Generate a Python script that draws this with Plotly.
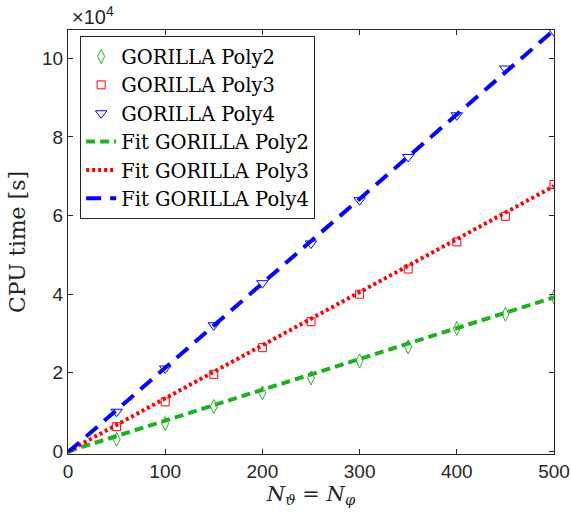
import plotly.graph_objects as go

# Data (CPU time in seconds)
n_vals = [50, 100, 150, 200, 250, 300, 350, 400, 450, 500]
poly2 = [3100, 7100, 11400, 14900, 18700, 23000, 26600, 31300, 34900, 39300]
poly3 = [6300, 12600, 19600, 26400, 33000, 40000, 46400, 53300, 59800, 67900]
poly4 = [10100, 21100, 32100, 42800, 52900, 63900, 74900, 85500, 97400, 106900]

fit_n = [0, 500]
fit2 = [0, 39200]
fit3 = [0, 67500]
fit4 = [-200, 107200]

xticks = [0, 100, 200, 300, 400, 500]
yticks = [0, 20000, 40000, 60000, 80000, 100000]
yticktext = ["0", "2", "4", "6", "8", "10"]

GREEN = "#20B020"
RED = "#FF0000"
BLUE = "#0000FF"

fig = go.Figure()
fig.add_trace(go.Scatter(x=n_vals, y=poly2, mode="markers", name="GORILLA Poly2",
                         marker=dict(symbol="diamond-tall-open", size=10, color=GREEN, line=dict(width=1))))
fig.add_trace(go.Scatter(x=n_vals, y=poly3, mode="markers", name="GORILLA Poly3",
                         marker=dict(symbol="square-open", size=8, color=RED, line=dict(width=1))))
fig.add_trace(go.Scatter(x=n_vals, y=poly4, mode="markers", name="GORILLA Poly4",
                         marker=dict(symbol="triangle-down-open", size=10, color=BLUE, line=dict(width=1))))
fig.add_trace(go.Scatter(x=fit_n, y=fit2, mode="lines", name="Fit GORILLA Poly2",
                         line=dict(color=GREEN, width=4, dash="9px,5px")))
fig.add_trace(go.Scatter(x=fit_n, y=fit3, mode="lines", name="Fit GORILLA Poly3",
                         line=dict(color=RED, width=4, dash="3px,3px")))
fig.add_trace(go.Scatter(x=fit_n, y=fit4, mode="lines", name="Fit GORILLA Poly4",
                         line=dict(color=BLUE, width=4, dash="15px,9px")))

axis_common = dict(
    showgrid=False, zeroline=False, showline=True, linecolor="#262626", linewidth=1,
    mirror="ticks", ticks="inside", ticklen=5, tickcolor="#262626", automargin=False,
    tickfont=dict(family="Liberation Sans, Arial, sans-serif", size=19, color="#262626"),
)

fig.update_layout(
    width=571, height=521,
    margin=dict(l=68, r=17, t=30, b=67),
    paper_bgcolor="white", plot_bgcolor="white",
    xaxis=dict(range=[0, 500], tickvals=xticks,
               title=dict(text="<i>N</i><sub><i>ϑ</i></sub> = <i>N</i><sub><i>φ</i></sub>",
                          font=dict(family="DejaVu Serif, serif", size=21, color="#262626"), standoff=3),
               **axis_common),
    yaxis=dict(range=[-650, 107200], tickvals=yticks, ticktext=yticktext,
               title=dict(text="CPU time [s]",
                          font=dict(family="DejaVu Serif, serif", size=22, color="#262626"), standoff=10),
               **axis_common),
    legend=dict(x=0.025, y=0.985, xanchor="left", yanchor="top",
                bgcolor="white", bordercolor="#262626", borderwidth=1,
                font=dict(family="DejaVu Serif, serif", size=19.5, color="#000000"),
                tracegroupgap=0, itemwidth=30),
    showlegend=True,
    annotations=[dict(text="×10<sup>4</sup>", xref="paper", yref="paper", x=0.005, y=1.0,
                      xanchor="left", yanchor="bottom", showarrow=False,
                      font=dict(family="Liberation Sans, Arial, sans-serif", size=20, color="#262626"))],
)

fig.write_html("out.html")
